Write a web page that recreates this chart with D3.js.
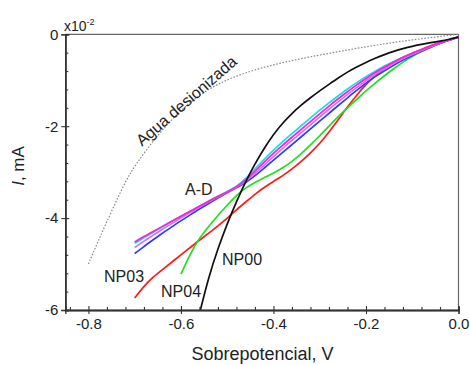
<!DOCTYPE html>
<html>
<head>
<meta charset="utf-8">
<script src="https://cdn.jsdelivr.net/npm/d3@7/dist/d3.min.js"></script>
<style>
  body { margin: 0; background: #fff; }
  svg { display: block; font-family: Arial, "Liberation Sans", sans-serif; }
</style>
</head>
<body>
<svg id="chart" width="470" height="365"></svg>
<script>
// Datos (corriente en unidades de 1e-2 mA)
const aguaV = [-0.8, -0.78, -0.75, -0.72, -0.7, -0.65, -0.6, -0.55, -0.5, -0.45, -0.4, -0.35, -0.3, -0.25, -0.2, -0.15, -0.1, -0.05, 0];
const aguaI = [-5.0, -4.52, -3.85, -3.2, -2.86, -2.18, -1.64, -1.24, -0.98, -0.8, -0.66, -0.55, -0.45, -0.36, -0.27, -0.19, -0.12, -0.06, 0];

const np00V = [-0.558, -0.54, -0.52, -0.5, -0.48, -0.46, -0.44, -0.42, -0.4, -0.38, -0.36, -0.34, -0.32, -0.3, -0.28, -0.26, -0.24, -0.22, -0.2, -0.18, -0.16, -0.14, -0.12, -0.1, -0.08, -0.06, -0.04, -0.02, 0];
const np00I = [-6.0, -5.28, -4.66, -4.12, -3.64, -3.2, -2.82, -2.48, -2.18, -1.93, -1.72, -1.54, -1.38, -1.23, -1.09, -0.95, -0.82, -0.71, -0.61, -0.52, -0.44, -0.37, -0.31, -0.26, -0.22, -0.18, -0.15, -0.11, -0.06];

const np04V = [-0.6, -0.58, -0.56, -0.54, -0.52, -0.5, -0.48, -0.46, -0.44, -0.42, -0.4, -0.38, -0.36, -0.34, -0.32, -0.3, -0.28, -0.26, -0.24, -0.22, -0.2, -0.18, -0.16, -0.14, -0.12, -0.1, -0.08, -0.06, -0.04, -0.02, 0];
const np04I = [-5.22, -4.78, -4.43, -4.18, -3.94, -3.72, -3.5, -3.34, -3.22, -3.12, -3.02, -2.91, -2.77, -2.6, -2.41, -2.21, -2.0, -1.79, -1.6, -1.42, -1.23, -1.06, -0.9, -0.75, -0.6, -0.48, -0.37, -0.28, -0.2, -0.13, -0.06];

// Potencial común para NP03 y las muestras A-D
const commonV = [-0.7, -0.68, -0.66, -0.64, -0.62, -0.6, -0.58, -0.56, -0.54, -0.52, -0.5, -0.48, -0.46, -0.44, -0.42, -0.4, -0.38, -0.36, -0.34, -0.32, -0.3, -0.28, -0.26, -0.24, -0.22, -0.2, -0.18, -0.16, -0.14, -0.12, -0.1, -0.08, -0.06, -0.04, -0.02, 0];
const np03I = [-5.74, -5.48, -5.28, -5.12, -4.96, -4.8, -4.64, -4.48, -4.33, -4.17, -4.0, -3.82, -3.65, -3.48, -3.33, -3.2, -3.08, -2.93, -2.77, -2.58, -2.38, -2.13, -1.86, -1.58, -1.32, -1.09, -0.9, -0.74, -0.61, -0.5, -0.41, -0.33, -0.25, -0.18, -0.12, -0.06];
const sampleAI = [-4.55, -4.43, -4.31, -4.19, -4.07, -3.96, -3.85, -3.74, -3.63, -3.52, -3.42, -3.32, -3.14, -2.93, -2.72, -2.52, -2.33, -2.16, -1.99, -1.82, -1.65, -1.49, -1.34, -1.19, -1.05, -0.92, -0.8, -0.69, -0.59, -0.5, -0.42, -0.34, -0.26, -0.19, -0.12, -0.06];
const sampleBI = [-4.64, -4.5, -4.37, -4.24, -4.12, -4.0, -3.88, -3.76, -3.65, -3.54, -3.44, -3.33, -3.2, -3.03, -2.85, -2.66, -2.48, -2.31, -2.14, -1.97, -1.8, -1.63, -1.47, -1.31, -1.16, -1.01, -0.87, -0.75, -0.63, -0.53, -0.44, -0.35, -0.27, -0.19, -0.12, -0.06];
const sampleCI = [-4.52, -4.4, -4.29, -4.18, -4.07, -3.96, -3.85, -3.74, -3.63, -3.53, -3.43, -3.33, -3.17, -2.98, -2.78, -2.59, -2.41, -2.24, -2.07, -1.9, -1.73, -1.56, -1.4, -1.25, -1.1, -0.96, -0.83, -0.71, -0.6, -0.5, -0.41, -0.33, -0.25, -0.18, -0.12, -0.06];
const sampleDI = [-4.77, -4.62, -4.47, -4.33, -4.19, -4.06, -3.93, -3.8, -3.68, -3.56, -3.45, -3.34, -3.23, -3.08, -2.91, -2.74, -2.57, -2.4, -2.23, -2.06, -1.89, -1.72, -1.55, -1.38, -1.22, -1.06, -0.92, -0.79, -0.67, -0.56, -0.46, -0.37, -0.28, -0.2, -0.13, -0.06];

const xMajor = [-0.8, -0.6, -0.4, -0.2, 0];
const xMinor = d3.range(-0.84, 0.001, 0.04).map(v => +v.toFixed(2)).filter(v => !xMajor.some(m => Math.abs(m - v) < 1e-6));
const yMajor = [0, -2, -4, -6];
const yMinor = d3.range(-5.6, 0, 0.4).map(v => +v.toFixed(1)).filter(v => !yMajor.some(m => Math.abs(m - v) < 1e-6));

const series = [
  { id: 'agua', v: aguaV, i: aguaI, color: '#8a8a8a', width: 1.2, dash: '1.6,1.6' },
  { id: 'NP03', v: commonV, i: np03I, color: '#ff1a1a', width: 1.7 },
  { id: 'NP04', v: np04V, i: np04I, color: '#1ee01e', width: 1.7 },
  { id: 'A', v: commonV, i: sampleAI, color: '#10e0f0', width: 1.7 },
  { id: 'D', v: commonV, i: sampleDI, color: '#2a3cff', width: 1.7 },
  { id: 'B', v: commonV, i: sampleBI, color: '#d070ff', width: 1.7 },
  { id: 'C', v: commonV, i: sampleCI, color: '#ff20d0', width: 1.7 },
  { id: 'NP00', v: np00V, i: np00I, color: '#111111', width: 1.7 }
];

const svg = d3.select('#chart');
const margins = { left: 65.3, right: 11.5, top: 34.3, bottom: 55 };
const width = 470, height = 365;

const x = d3.scaleLinear().domain([-0.85, 0]).range([margins.left, width - margins.right]);
const y = d3.scaleLinear().domain([-6, 0]).range([height - margins.bottom, margins.top]);

// Marco superior y derecho
svg.append('line')
  .attr('x1', x(-0.85)).attr('x2', x(0)).attr('y1', y(0)).attr('y2', y(0))
  .attr('stroke', '#666').attr('stroke-width', 1.2);
svg.append('line')
  .attr('x1', x(0)).attr('x2', x(0)).attr('y1', y(0)).attr('y2', y(-6))
  .attr('stroke', '#666').attr('stroke-width', 1.2);

// Curvas
const line = d3.line()
  .x(d => x(d[0]))
  .y(d => y(d[1]))
  .curve(d3.curveBasis);

const plot = svg.append('g').attr('class', 'dataContainer');
plot.selectAll('path.data')
  .data(series)
  .join('path')
  .attr('class', 'data')
  .attr('d', s => line(s.v.map((v, k) => [v, s.i[k]])))
  .attr('fill', 'none')
  .attr('stroke', s => s.color)
  .attr('stroke-width', s => s.width)
  .attr('stroke-dasharray', s => s.dash || null);

// Eje X
svg.append('g')
  .attr('transform', `translate(0, ${y(-6)})`)
  .call(d3.axisBottom(x).tickValues(xMajor).tickSize(4).tickPadding(4).tickFormat(d => d.toFixed(1)));
svg.append('g')
  .attr('transform', `translate(0, ${y(-6)})`)
  .call(d3.axisBottom(x).tickValues(xMajor).tickSize(-4).tickFormat(''));
svg.append('g')
  .attr('transform', `translate(0, ${y(-6)})`)
  .call(d3.axisBottom(x).tickValues(xMinor).tickSize(-3).tickFormat(''));

// Eje Y
svg.append('g')
  .attr('transform', `translate(${x(-0.85)}, 0)`)
  .call(d3.axisLeft(y).tickValues(yMajor).tickSize(4).tickPadding(3).tickFormat(d => String(d)));
svg.append('g')
  .attr('transform', `translate(${x(-0.85)}, 0)`)
  .call(d3.axisLeft(y).tickValues(yMajor).tickSize(-4).tickFormat(''));
svg.append('g')
  .attr('transform', `translate(${x(-0.85)}, 0)`)
  .call(d3.axisLeft(y).tickValues(yMinor).tickSize(-3).tickFormat(''));

svg.selectAll('.domain').attr('stroke', '#333').attr('stroke-width', 1.3);
svg.selectAll('.tick line').attr('stroke', '#333').attr('stroke-width', 1.1);
svg.selectAll('.tick text').style('font-size', '15px').attr('fill', '#222');

// Multiplicador
const mult = svg.append('text')
  .attr('x', 64).attr('y', 31)
  .style('font-size', '14px').attr('fill', '#222');
mult.append('tspan').text('x10');
mult.append('tspan').attr('dy', -6).style('font-size', '9px').text('-2');

// Títulos de ejes
svg.append('text')
  .attr('x', 262.5).attr('y', 360)
  .attr('text-anchor', 'middle')
  .style('font-size', '18px').attr('fill', '#222')
  .text('Sobrepotencial, V');

const yTitle = svg.append('text')
  .attr('transform', 'translate(24, 166) rotate(-90)')
  .attr('text-anchor', 'middle')
  .style('font-size', '17px').attr('fill', '#222');
yTitle.append('tspan').style('font-style', 'italic').text('I');
yTitle.append('tspan').text(', mA');

// Etiquetas de curvas
const labels = [
  { text: 'NP03', x: 104, y: 282 },
  { text: 'NP04', x: 161, y: 297 },
  { text: 'NP00', x: 222, y: 265 },
  { text: 'A-D', x: 185, y: 195 }
];
svg.selectAll('text.curve-label')
  .data(labels)
  .join('text')
  .attr('class', 'curve-label')
  .attr('x', d => d.x).attr('y', d => d.y)
  .style('font-size', '16px').attr('fill', '#222')
  .text(d => d.text);

svg.append('text')
  .attr('transform', 'translate(190, 105) rotate(-41)')
  .attr('text-anchor', 'middle')
  .style('font-size', '16px').attr('fill', '#222')
  .text('Agua desionizada');
</script>
</body>
</html>
